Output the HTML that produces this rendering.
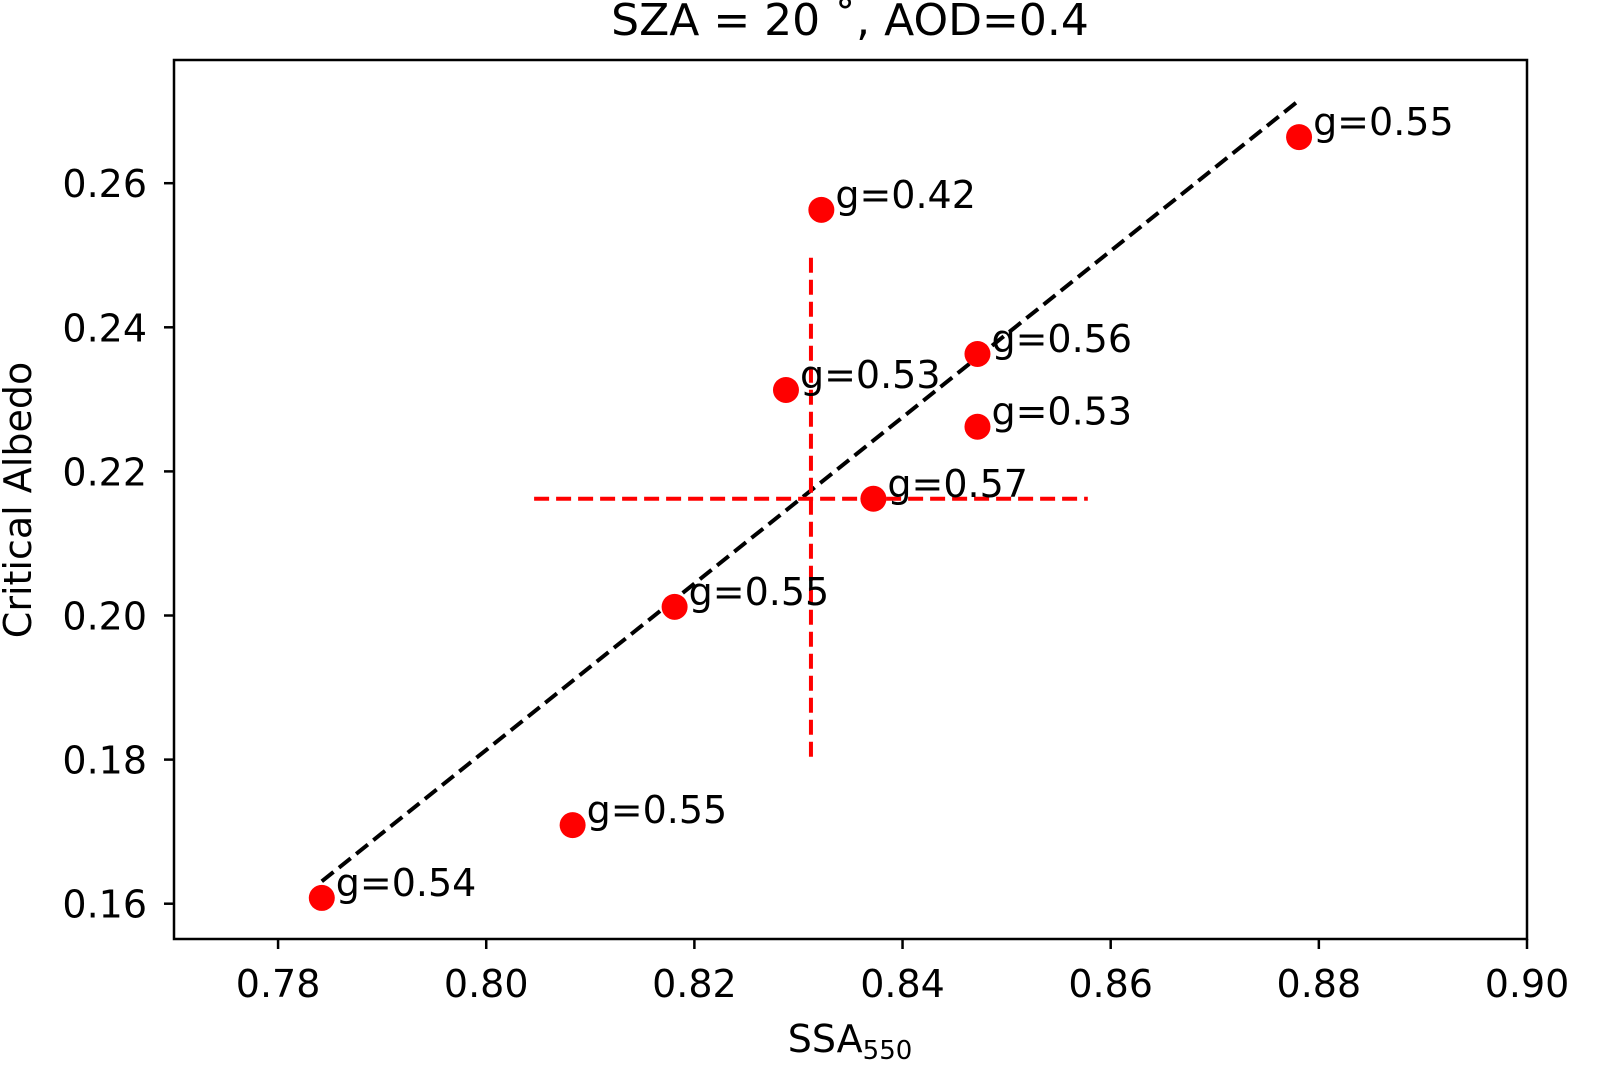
<!DOCTYPE html>
<html><head><meta charset="utf-8"><style>
body{margin:0;background:#fff;}
svg{display:block;font-family:"DejaVu Sans","Liberation Sans",sans-serif;}
</style></head><body>
<svg id="chart" width="1617" height="1092" viewBox="0 0 1617 1092">
<rect width="1617" height="1092" fill="#fff"/>
<text x="850" y="35" text-anchor="middle" font-size="44">SZA = 20 ˚, AOD=0.4</text>
<g id="plot"></g>
</svg>
<script>
const ssa = [0.7842,0.8083,0.8181,0.8288,0.8322,0.8372,0.8472,0.8472,0.8781];
const albedo = [0.1608,0.1709,0.2012,0.2313,0.2563,0.2162,0.2363,0.2262,0.2664];
const gLabels = ["g=0.54","g=0.55","g=0.55","g=0.53","g=0.42","g=0.57","g=0.56","g=0.53","g=0.55"];
const fitX = [0.7842,0.8781];
const fitY = [0.1631,0.2715];
const vLineX = [0.8312,0.8312];
const vLineY = [0.1804,0.2502];
const hLineX = [0.8046,0.8578];
const hLineY = [0.2162,0.2162];
const xTicks = [0.78,0.80,0.82,0.84,0.86,0.88,0.90];
const yTicks = [0.16,0.18,0.20,0.22,0.24,0.26];

const L=174,R=1527,T=60,B=939;
const xMin=0.77,xMax=0.90,yMin=0.1551,yMax=0.2771;
const sx=v=>L+(v-xMin)/(xMax-xMin)*(R-L);
const sy=v=>B-(v-yMin)/(yMax-yMin)*(B-T);
const NS="http://www.w3.org/2000/svg";
const g=document.getElementById('plot');
function mk(tag,attrs,parent){const e=document.createElementNS(NS,tag);for(const k in attrs)e.setAttribute(k,attrs[k]);(parent||g).appendChild(e);return e;}

let e=mk('line',{x1:sx(fitX[0]),y1:sy(fitY[0]),x2:sx(fitX[1]),y2:sy(fitY[1]),stroke:'#000','stroke-width':4,'stroke-dasharray':'15 7'});


e=mk('line',{x1:sx(vLineX[0]),y1:sy(vLineY[0]),x2:sx(vLineX[1]),y2:sy(vLineY[1]),stroke:'#f00','stroke-width':4,'stroke-dasharray':'15 7'});


e=mk('line',{x1:sx(hLineX[0]),y1:sy(hLineY[0]),x2:sx(hLineX[1]),y2:sy(hLineY[1]),stroke:'#f00','stroke-width':4,'stroke-dasharray':'15 7'});



ssa.forEach((v,i)=>{
  const c=mk('circle',{cx:sx(v),cy:sy(albedo[i]),r:13,fill:'#f00'});
  
  
  const t=mk('text',{x:sx(v)+14,y:sy(albedo[i])-2,'font-size':38});
  t.textContent=gLabels[i];
  
  
});

e=mk('rect',{x:L,y:T,width:R-L,height:B-T,fill:'none',stroke:'#000','stroke-width':2.5});



xTicks.forEach(v=>{
  const x=sx(v);
  const l=mk('line',{x1:x,y1:B,x2:x,y2:B+10,stroke:'#000','stroke-width':2.5});
  
  
  const t=mk('text',{x:x,y:B+58,'font-size':38,'text-anchor':'middle'});
  t.textContent=v.toFixed(2);
  
  
});
yTicks.forEach(v=>{
  const y=sy(v);
  const l=mk('line',{x1:L-10,y1:y,x2:L,y2:y,stroke:'#000','stroke-width':2.5});
  
  
  const t=mk('text',{x:L-27,y:y+14,'font-size':38,'text-anchor':'end'});
  t.textContent=v.toFixed(2);
  
  
});

let xt=mk('text',{x:850,y:1052,'font-size':38,'text-anchor':'middle'});
xt.innerHTML='SSA<tspan font-size="26" dy="7">550</tspan>';


let yt=mk('text',{x:0,y:0,'font-size':38,'text-anchor':'middle',transform:'translate(31,500) rotate(-90)'});
yt.textContent='Critical Albedo';


</script>
</body></html>
